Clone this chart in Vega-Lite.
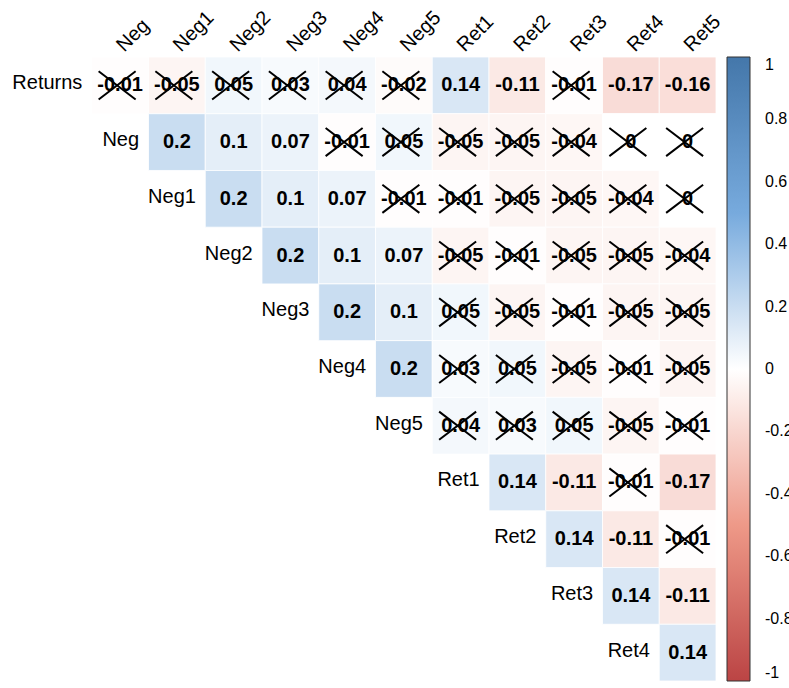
{
  "$schema": "https://vega.github.io/schema/vega-lite/v6.json",
  "width": 681,
  "height": 624,
  "autosize": "none",
  "padding": {"left": 35, "top": 57, "right": 73, "bottom": 7},
  "background": "white",
  "config": {"view": {"stroke": null}, "font": "Liberation Sans"},
  "datasets": {
    "cells": [
      {"row": "Returns", "col": "Neg", "r": -0.01, "ns": 1},
      {"row": "Returns", "col": "Neg1", "r": -0.05, "ns": 1},
      {"row": "Returns", "col": "Neg2", "r": 0.05, "ns": 1},
      {"row": "Returns", "col": "Neg3", "r": 0.03, "ns": 1},
      {"row": "Returns", "col": "Neg4", "r": 0.04, "ns": 1},
      {"row": "Returns", "col": "Neg5", "r": -0.02, "ns": 1},
      {"row": "Returns", "col": "Ret1", "r": 0.14, "ns": 0},
      {"row": "Returns", "col": "Ret2", "r": -0.11, "ns": 0},
      {"row": "Returns", "col": "Ret3", "r": -0.01, "ns": 1},
      {"row": "Returns", "col": "Ret4", "r": -0.17, "ns": 0},
      {"row": "Returns", "col": "Ret5", "r": -0.16, "ns": 0},
      {"row": "Neg", "col": "Neg1", "r": 0.2, "ns": 0},
      {"row": "Neg", "col": "Neg2", "r": 0.1, "ns": 0},
      {"row": "Neg", "col": "Neg3", "r": 0.07, "ns": 0},
      {"row": "Neg", "col": "Neg4", "r": -0.01, "ns": 1},
      {"row": "Neg", "col": "Neg5", "r": 0.05, "ns": 1},
      {"row": "Neg", "col": "Ret1", "r": -0.05, "ns": 1},
      {"row": "Neg", "col": "Ret2", "r": -0.05, "ns": 1},
      {"row": "Neg", "col": "Ret3", "r": -0.04, "ns": 1},
      {"row": "Neg", "col": "Ret4", "r": 0, "ns": 1},
      {"row": "Neg", "col": "Ret5", "r": 0, "ns": 1},
      {"row": "Neg1", "col": "Neg2", "r": 0.2, "ns": 0},
      {"row": "Neg1", "col": "Neg3", "r": 0.1, "ns": 0},
      {"row": "Neg1", "col": "Neg4", "r": 0.07, "ns": 0},
      {"row": "Neg1", "col": "Neg5", "r": -0.01, "ns": 1},
      {"row": "Neg1", "col": "Ret1", "r": -0.01, "ns": 1},
      {"row": "Neg1", "col": "Ret2", "r": -0.05, "ns": 1},
      {"row": "Neg1", "col": "Ret3", "r": -0.05, "ns": 1},
      {"row": "Neg1", "col": "Ret4", "r": -0.04, "ns": 1},
      {"row": "Neg1", "col": "Ret5", "r": 0, "ns": 1},
      {"row": "Neg2", "col": "Neg3", "r": 0.2, "ns": 0},
      {"row": "Neg2", "col": "Neg4", "r": 0.1, "ns": 0},
      {"row": "Neg2", "col": "Neg5", "r": 0.07, "ns": 0},
      {"row": "Neg2", "col": "Ret1", "r": -0.05, "ns": 1},
      {"row": "Neg2", "col": "Ret2", "r": -0.01, "ns": 1},
      {"row": "Neg2", "col": "Ret3", "r": -0.05, "ns": 1},
      {"row": "Neg2", "col": "Ret4", "r": -0.05, "ns": 1},
      {"row": "Neg2", "col": "Ret5", "r": -0.04, "ns": 1},
      {"row": "Neg3", "col": "Neg4", "r": 0.2, "ns": 0},
      {"row": "Neg3", "col": "Neg5", "r": 0.1, "ns": 0},
      {"row": "Neg3", "col": "Ret1", "r": 0.05, "ns": 1},
      {"row": "Neg3", "col": "Ret2", "r": -0.05, "ns": 1},
      {"row": "Neg3", "col": "Ret3", "r": -0.01, "ns": 1},
      {"row": "Neg3", "col": "Ret4", "r": -0.05, "ns": 1},
      {"row": "Neg3", "col": "Ret5", "r": -0.05, "ns": 1},
      {"row": "Neg4", "col": "Neg5", "r": 0.2, "ns": 0},
      {"row": "Neg4", "col": "Ret1", "r": 0.03, "ns": 1},
      {"row": "Neg4", "col": "Ret2", "r": 0.05, "ns": 1},
      {"row": "Neg4", "col": "Ret3", "r": -0.05, "ns": 1},
      {"row": "Neg4", "col": "Ret4", "r": -0.01, "ns": 1},
      {"row": "Neg4", "col": "Ret5", "r": -0.05, "ns": 1},
      {"row": "Neg5", "col": "Ret1", "r": 0.04, "ns": 1},
      {"row": "Neg5", "col": "Ret2", "r": 0.03, "ns": 1},
      {"row": "Neg5", "col": "Ret3", "r": 0.05, "ns": 1},
      {"row": "Neg5", "col": "Ret4", "r": -0.05, "ns": 1},
      {"row": "Neg5", "col": "Ret5", "r": -0.01, "ns": 1},
      {"row": "Ret1", "col": "Ret2", "r": 0.14, "ns": 0},
      {"row": "Ret1", "col": "Ret3", "r": -0.11, "ns": 0},
      {"row": "Ret1", "col": "Ret4", "r": -0.01, "ns": 1},
      {"row": "Ret1", "col": "Ret5", "r": -0.17, "ns": 0},
      {"row": "Ret2", "col": "Ret3", "r": 0.14, "ns": 0},
      {"row": "Ret2", "col": "Ret4", "r": -0.11, "ns": 0},
      {"row": "Ret2", "col": "Ret5", "r": -0.01, "ns": 1},
      {"row": "Ret3", "col": "Ret4", "r": 0.14, "ns": 0},
      {"row": "Ret3", "col": "Ret5", "r": -0.11, "ns": 0},
      {"row": "Ret4", "col": "Ret5", "r": 0.14, "ns": 0}
    ],
    "rowlabels": [
      {"label": "Returns", "pos": ""},
      {"label": "Neg", "pos": "Neg"},
      {"label": "Neg1", "pos": "Neg1"},
      {"label": "Neg2", "pos": "Neg2"},
      {"label": "Neg3", "pos": "Neg3"},
      {"label": "Neg4", "pos": "Neg4"},
      {"label": "Neg5", "pos": "Neg5"},
      {"label": "Ret1", "pos": "Ret1"},
      {"label": "Ret2", "pos": "Ret2"},
      {"label": "Ret3", "pos": "Ret3"},
      {"label": "Ret4", "pos": "Ret4"}
    ]
  },
  "layer": [
    {
      "data": {"name": "cells"},
      "mark": {"type": "rect", "stroke": "white", "strokeWidth": 0.8},
      "encoding": {
        "x": {
          "field": "col", "type": "nominal",
          "scale": {"domain": ["", "Neg", "Neg1", "Neg2", "Neg3", "Neg4", "Neg5", "Ret1", "Ret2", "Ret3", "Ret4", "Ret5"], "paddingInner": 0, "paddingOuter": 0},
          "axis": {"orient": "top", "title": null, "domain": false, "ticks": false, "labelAngle": -45, "labelAlign": "left", "labelBaseline": "middle", "labelFontSize": 20, "labelPadding": 9, "labelColor": "black", "labelOverlap": false, "labelFont": "Liberation Sans"}
        },
        "y": {
          "field": "row", "type": "nominal",
          "scale": {"domain": ["Returns", "Neg", "Neg1", "Neg2", "Neg3", "Neg4", "Neg5", "Ret1", "Ret2", "Ret3", "Ret4"], "paddingInner": 0, "paddingOuter": 0},
          "axis": null
        },
        "color": {
          "field": "r", "type": "quantitative",
          "scale": {"domain": [-1, -0.5, 0, 0.5, 1], "range": ["#BB4444", "#EE9988", "#FFFFFF", "#77AADD", "#4477AA"], "interpolate": "rgb"},
          "legend": {
            "orient": "none", "legendX": 692, "legendY": 0, "direction": "vertical",
            "title": null, "gradientLength": 624, "gradientThickness": 23,
            "gradientStrokeColor": "#333333", "gradientStrokeWidth": 1,
            "values": [1, 0.8, 0.6, 0.4, 0.2, 0, -0.2, -0.4, -0.6, -0.8, -1],
            "labelExpr": "toString(datum.value)",
            "labelFontSize": 16, "labelBaseline": "middle", "labelOffset": 15,
            "labelColor": "black", "labelOverlap": false, "labelFont": "Liberation Sans"
          }
        }
      }
    },
    {
      "data": {"name": "cells"},
      "mark": {"type": "text", "fontSize": 20, "fontWeight": "bold", "color": "black", "baseline": "middle", "align": "center"},
      "encoding": {
        "x": {"field": "col", "type": "nominal"},
        "y": {"field": "row", "type": "nominal"},
        "text": {"field": "r", "type": "nominal"}
      }
    },
    {
      "data": {"name": "cells"},
      "transform": [{"filter": "datum.ns == 1"}],
      "mark": {"type": "point", "shape": "M-1,-0.76L1,0.76M-1,0.76L1,-0.76", "filled": false, "stroke": "black", "strokeWidth": 2, "size": 1369, "opacity": 1, "xOffset": -3},
      "encoding": {
        "x": {"field": "col", "type": "nominal"},
        "y": {"field": "row", "type": "nominal"}
      }
    },
    {
      "data": {"name": "rowlabels"},
      "mark": {"type": "text", "fontSize": 20, "color": "black", "align": "right", "baseline": "middle", "dx": 19, "dy": -2},
      "encoding": {
        "x": {"field": "pos", "type": "nominal"},
        "y": {"field": "label", "type": "nominal"},
        "text": {"field": "label", "type": "nominal"}
      }
    }
  ]
}
